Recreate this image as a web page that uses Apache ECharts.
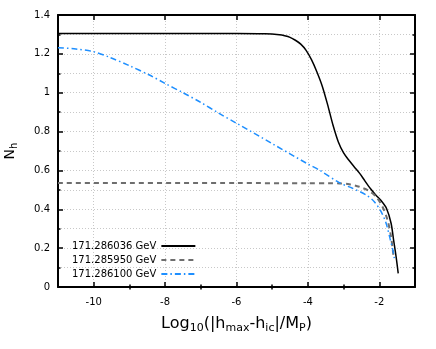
<!DOCTYPE html>
<html><head><meta charset="utf-8">
<script src="https://cdn.jsdelivr.net/npm/echarts@6/dist/echarts.min.js"></script>
<style>html,body{margin:0;padding:0;background:#fff}#c{width:436px;height:349px}</style>
</head><body><div id="c"></div>
<script>
const seriesNames = ['171.286036 GeV', '171.285950 GeV', '171.286100 GeV'];
const xTickLabels = [-10, -8, -6, -4, -2];
const xMinorTicks = [-9, -7, -5, -3];

const xA = [-11, -8, -6, -5.2, -4.8, -4.65, -4.5, -4.35, -4.2, -4.05, -3.9, -3.75, -3.6, -3.45, -3.3, -3.15, -3.0, -2.85, -2.7, -2.55, -2.4, -2.25, -2.1, -1.95, -1.8, -1.67, -1.6, -1.53, -1.47];
const yA = [1.305, 1.305, 1.305, 1.303, 1.298, 1.293, 1.285, 1.270, 1.250, 1.218, 1.170, 1.108, 1.035, 0.940, 0.835, 0.748, 0.690, 0.652, 0.618, 0.585, 0.545, 0.507, 0.474, 0.445, 0.405, 0.328, 0.242, 0.156, 0.07];

const xB = [-11, -6, -4, -3.4, -3.12, -2.84, -2.56, -2.28, -2.09, -1.91, -1.77, -1.67, -1.61, -1.58];
const yB = [0.535, 0.535, 0.534, 0.534, 0.533, 0.529, 0.516, 0.494, 0.465, 0.413, 0.345, 0.259, 0.173, 0.145];

const xC = [-11, -10.5, -10, -9.55, -9, -8.44, -8, -7.5, -7, -6.5, -6, -5, -4, -3.68, -3.12, -2.75, -2.37, -2.14, -1.95, -1.81, -1.7, -1.62, -1.58];
const yC = [1.232, 1.225, 1.211, 1.182, 1.139, 1.091, 1.048, 1.0, 0.95, 0.895, 0.843, 0.738, 0.633, 0.602, 0.537, 0.508, 0.474, 0.439, 0.388, 0.328, 0.25, 0.19, 0.148];

const pairs = (xs, ys) => xs.map((x, i) => [x, ys[i]]);
const FONT = 'DejaVu Sans';
const dotted = { color: '#c8c8c8', width: 1, type: [1, 2] };
const baseLine = { show: true, onZero: false, lineStyle: { color: '#000', width: 2 } };

const chart = echarts.init(document.getElementById('c'), null, { renderer: 'canvas' });
chart.setOption({
  animation: false,
  backgroundColor: '#fff',
  grid: { left: 58, right: 21, top: 15, bottom: 62, outerBoundsMode: 'none', containLabel: false },
  legend: {
    orient: 'vertical', left: 72, top: 241, align: 'right',
    itemWidth: 34, itemHeight: 10, itemGap: 4, padding: 0,
    itemStyle: { opacity: 0 },
    textStyle: { fontFamily: FONT, fontSize: 10, color: '#000' },
    data: seriesNames
  },
  xAxis: [
    { type: 'value', position: 'bottom', min: -11, max: -1, interval: 1,
      axisLine: baseLine,
      axisTick: { show: true, inside: true, length: 5, customValues: xTickLabels, lineStyle: { color: '#000', width: 1.5 } },
      axisLabel: { customValues: xTickLabels, fontFamily: FONT, fontSize: 10, color: '#000', margin: 10 },
      splitLine: { show: true, lineStyle: dotted },
      name: 'Log{sub|10}(|h{sub|max}-h{sub|ic}|/M{sub|P})', nameLocation: 'middle', nameGap: 27,
      nameTextStyle: { fontFamily: FONT, fontSize: 16, color: '#000',
        rich: { sub: { fontFamily: FONT, fontSize: 11, color: '#000', padding: [9, 0, 0, 0] } } } },
    { type: 'value', position: 'top', min: -11, max: -1, interval: 1,
      axisLine: baseLine,
      axisTick: { show: true, inside: true, length: 5, customValues: xTickLabels, lineStyle: { color: '#000', width: 1.5 } },
      axisLabel: { show: false }, splitLine: { show: false } },
    { type: 'value', position: 'bottom', min: -11, max: -1, interval: 1,
      axisLine: { show: false },
      axisTick: { show: true, inside: true, length: 2.5, customValues: xMinorTicks, lineStyle: { color: '#000', width: 1.5 } },
      axisLabel: { show: false }, splitLine: { show: false } },
    { type: 'value', position: 'top', min: -11, max: -1, interval: 1,
      axisLine: { show: false },
      axisTick: { show: true, inside: true, length: 2.5, customValues: xMinorTicks, lineStyle: { color: '#000', width: 1.5 } },
      axisLabel: { show: false }, splitLine: { show: false } }
  ],
  yAxis: [
    { type: 'value', position: 'left', min: 0, max: 1.4, interval: 0.2,
      axisLine: baseLine,
      axisTick: { show: true, inside: true, length: 5, lineStyle: { color: '#000', width: 1.5 } },
      minorTick: { show: true, splitNumber: 2, length: 2.5, lineStyle: { color: '#000', width: 1.5 } },
      axisLabel: { fontFamily: FONT, fontSize: 10, color: '#000', margin: 8 },
      splitLine: { show: true, lineStyle: dotted },
      minorSplitLine: { show: true, lineStyle: dotted },
      name: 'N{sub|h}', nameLocation: 'middle', nameGap: 39, nameRotate: 90,
      nameTextStyle: { fontFamily: FONT, fontSize: 14, color: '#000',
        rich: { sub: { fontFamily: FONT, fontSize: 10, color: '#000', padding: [8, 0, 0, 0] } } } },
    { type: 'value', position: 'right', min: 0, max: 1.4, interval: 0.2,
      axisLine: baseLine,
      axisTick: { show: true, inside: true, length: 5, lineStyle: { color: '#000', width: 1.5 } },
      minorTick: { show: true, splitNumber: 2, length: 2.5, lineStyle: { color: '#000', width: 1.5 } },
      axisLabel: { show: false }, splitLine: { show: false } }
  ],
  series: [
    { name: seriesNames[0], type: 'line', xAxisIndex: 0, yAxisIndex: 0, data: pairs(xA, yA),
      showSymbol: false, symbol: 'none', smooth: 0.3,
      lineStyle: { color: '#000', width: 1.5 }, itemStyle: { color: '#000' } },
    { name: seriesNames[1], type: 'line', xAxisIndex: 0, yAxisIndex: 0, data: pairs(xB, yB),
      showSymbol: false, symbol: 'none', smooth: 0.3,
      lineStyle: { color: '#6e6e6e', width: 2, type: [5, 4] }, itemStyle: { color: '#6e6e6e' } },
    { name: seriesNames[2], type: 'line', xAxisIndex: 0, yAxisIndex: 0, data: pairs(xC, yC),
      showSymbol: false, symbol: 'none', smooth: 0.3,
      lineStyle: { color: '#1e8fff', width: 1.5, type: [6, 3, 1.5, 3] }, itemStyle: { color: '#1e8fff' } }
  ]
});
</script></body></html>
